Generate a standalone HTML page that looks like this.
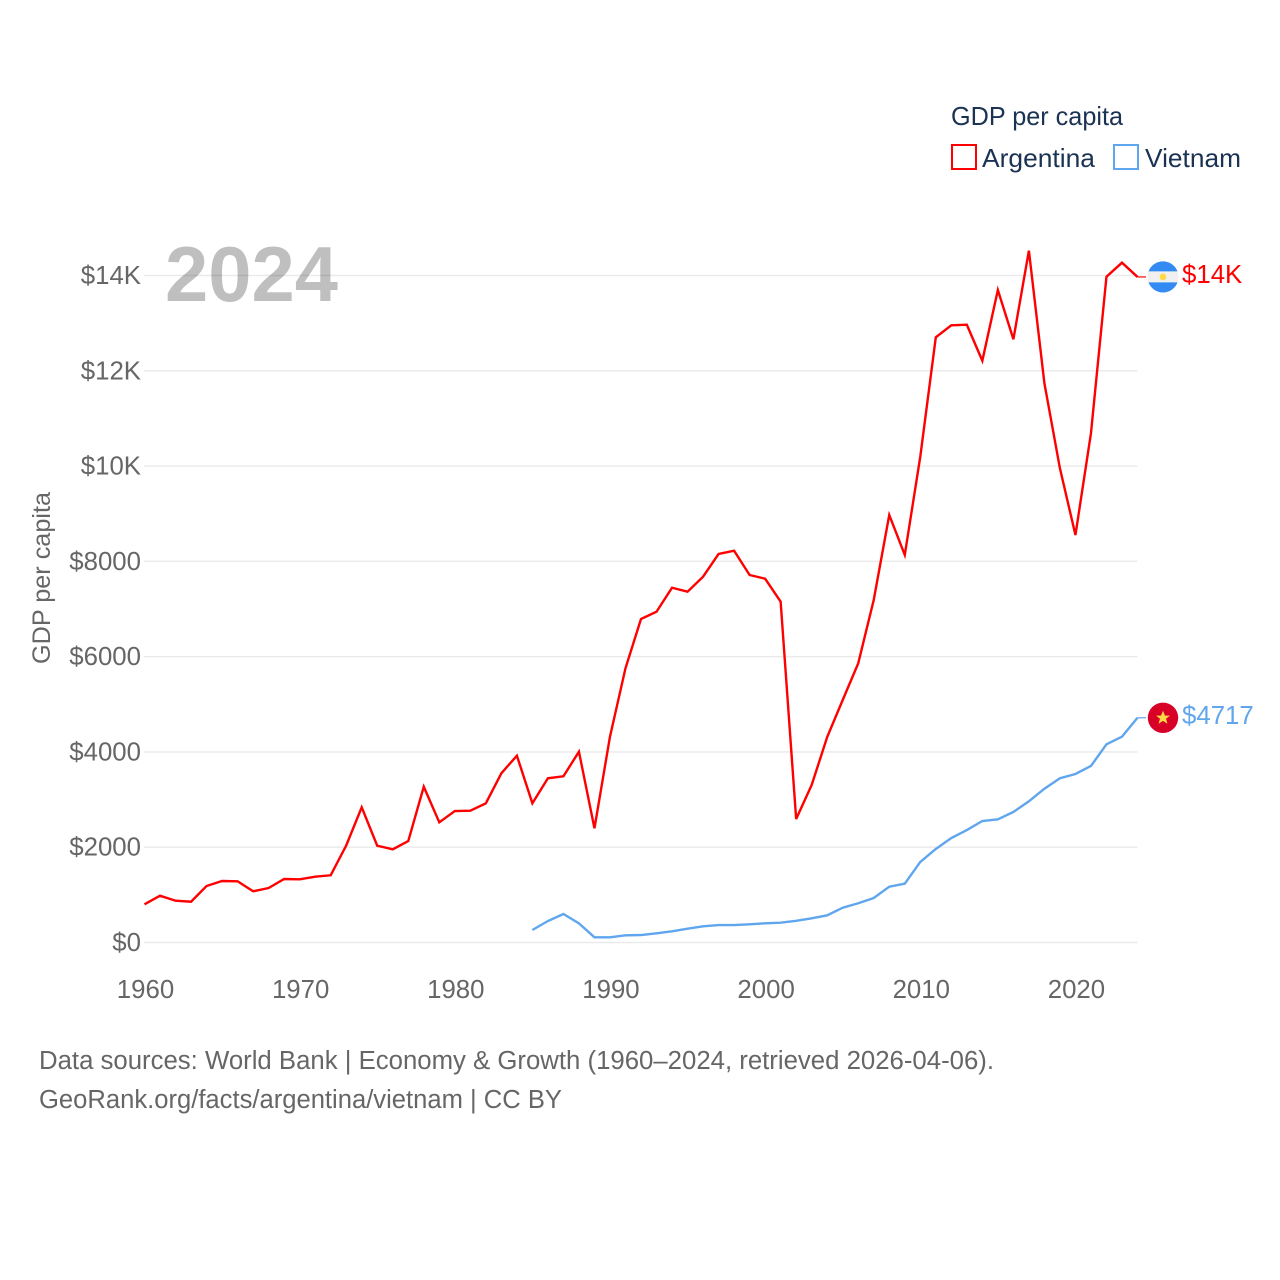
<!DOCTYPE html>
<html lang="en">
<head>
<meta charset="utf-8">
<title>GDP per capita: Argentina and Vietnam</title>
<style>
html,body{margin:0;padding:0;background:#fff;}
svg{display:block;font-family:"Liberation Sans",sans-serif;}
</style>
</head>
<body>
<svg id="chart" xmlns="http://www.w3.org/2000/svg" width="1280" height="1280" viewBox="0 0 1280 1280">
  <rect x="0" y="0" width="1280" height="1280" fill="#ffffff"/>
  <g id="grid"></g>
  <g id="yticks"></g>
  <g id="xticks"></g>
  <text transform="translate(50,578) rotate(-90)" text-anchor="middle" font-size="25" fill="#666666" textLength="172" lengthAdjust="spacingAndGlyphs">GDP per capita</text>
  <text x="165" y="301" font-size="78" font-weight="700" fill="#000000" fill-opacity="0.25" textLength="173" lengthAdjust="spacingAndGlyphs">2024</text>
  <g id="series"></g>
  <g>
    <text x="951" y="125" font-size="26" fill="#1b3253" textLength="172" lengthAdjust="spacingAndGlyphs">GDP per capita</text>
    <rect x="952" y="145" width="24" height="24" fill="none" stroke="#ff0000" stroke-width="2"/>
    <text x="982" y="167" font-size="26" fill="#1b3253" textLength="113" lengthAdjust="spacingAndGlyphs">Argentina</text>
    <rect x="1114" y="145" width="24" height="24" fill="none" stroke="#5fa6ee" stroke-width="2"/>
    <text x="1145" y="167" font-size="26" fill="#1b3253" textLength="96" lengthAdjust="spacingAndGlyphs">Vietnam</text>
  </g>
  <g>
    <text x="39" y="1069" font-size="25.5" fill="#666666" textLength="955" lengthAdjust="spacingAndGlyphs">Data sources: World Bank | Economy &amp; Growth (1960–2024, retrieved 2026-04-06).</text>
    <text x="39" y="1108" font-size="25.5" fill="#666666" textLength="523" lengthAdjust="spacingAndGlyphs">GeoRank.org/facts/argentina/vietnam | CC BY</text>
  </g>
</svg>
<script>
const argentinaStartYear = 1960;
const argentinaValues = [802,982,877,856,1186,1291,1285,1075,1144,1333,1327,1381,1411,2036,2838,2032,1956,2130,3270,2523,2760,2767,2922,3552,3921,2922,3447,3489,4005,2397,4320,5756,6790,6943,7447,7363,7678,8155,8224,7714,7636,7153,2592,3306,4313,5090,5860,7189,8973,8134,10197,12703,12955,12967,12212,13696,12661,14521,11738,9953,8553,10688,13975,14269,13970];
const vietnamStartYear = 1985;
const vietnamValues = [262,451,598,403,109,109,151,157,193,235,290,340,367,367,382,403,416,455,508,571,730,823,934,1171,1234,1690,1963,2193,2361,2550,2586,2739,2964,3228,3447,3537,3705,4160,4320,4717];
const yTickValues = [0,2000,4000,6000,8000,10000,12000,14000];
const yTickLabels = ["$0","$2000","$4000","$6000","$8000","$10K","$12K","$14K"];
const xTickValues = [1960,1970,1980,1990,2000,2010,2020];
const xTickLabels = ["1960","1970","1980","1990","2000","2010","2020"];
const argentinaEndLabel = "$14K";
const vietnamEndLabel = "$4717";

const NS = "http://www.w3.org/2000/svg";
const chartLeft = 144.5, chartRight = 1137.5, yZero = 942.5, pxPerDollar = 667 / 14000;
function xScale(year){ return chartLeft + (year - 1960) * (chartRight - chartLeft) / 64; }
function yScale(value){ return yZero - value * pxPerDollar; }
function make(tag, attrs, text){
  const el = document.createElementNS(NS, tag);
  for (const k in attrs) el.setAttribute(k, attrs[k]);
  if (text !== undefined) el.textContent = text;
  return el;
}
const grid = document.getElementById("grid");
const yticks = document.getElementById("yticks");
const xticks = document.getElementById("xticks");
const series = document.getElementById("series");

yTickValues.forEach(function(v, i){
  const line = make("line", {x1: chartLeft - 0.5, x2: chartRight, y1: yScale(v), y2: yScale(v), stroke: "#eaeaea", "stroke-width": 1.4});
  
  
  grid.appendChild(line);
  const label = make("text", {x: 141, y: yScale(v) + 8.5, "text-anchor": "end", "font-size": 25.8, fill: "#666666"}, yTickLabels[i]);
  
  
  yticks.appendChild(label);
});
xTickValues.forEach(function(v, i){
  const label = make("text", {x: xScale(v) + 1, y: 998, "text-anchor": "middle", "font-size": 25.8, fill: "#666666"}, xTickLabels[i]);
  
  
  xticks.appendChild(label);
});

function linePath(startYear, values){
  return values.map(function(v, i){
    return (i ? "L" : "M") + xScale(startYear + i).toFixed(2) + " " + yScale(v).toFixed(2);
  }).join(" ");
}
function drawSeries(name, startYear, values, color, endLabel){
  const lastValue = values[values.length - 1];
  const lastY = yScale(lastValue);
  const path = make("path", {d: linePath(startYear, values), fill: "none", stroke: color, "stroke-width": 2.4, "stroke-linejoin": "miter"});
  
  
  series.appendChild(path);
  const connector = make("line", {x1: chartRight, x2: 1146, y1: lastY, y2: lastY, stroke: color, "stroke-width": 1.2});
  
  
  series.appendChild(connector);
  const flag = make("g", {transform: "translate(1163," + lastY.toFixed(2) + ")"});
  
  
  if (name === "argentina") {
    flag.appendChild(make("circle", {r: 15.5, fill: "#f0f0f0"}));
    flag.appendChild(make("path", {d: "M-14.5 -5.5A15.5 15.5 0 0 1 14.5 -5.5Z", fill: "#338af3"}));
    flag.appendChild(make("path", {d: "M-14.5 5.5A15.5 15.5 0 0 0 14.5 5.5Z", fill: "#338af3"}));
    flag.appendChild(make("circle", {r: 3.4, fill: "#ffda44"}));
  } else {
    flag.appendChild(make("circle", {r: 15.2, fill: "#d80027"}));
    flag.appendChild(make("path", {d: "M0 -7L2 -2.2L7 -2.2L3 1L4.5 6L0 3.1L-4.5 6L-3 1L-7 -2.2L-2 -2.2Z", fill: "#ffda44"}));
  }
  series.appendChild(flag);
  const label = make("text", {x: 1182, y: lastY + 6, "font-size": 25.8, fill: color}, endLabel);
  
  
  series.appendChild(label);
}
drawSeries("argentina", argentinaStartYear, argentinaValues, "#ff0000", argentinaEndLabel);
drawSeries("vietnam", vietnamStartYear, vietnamValues, "#5fa6ee", vietnamEndLabel);
</script>
</body>
</html>
